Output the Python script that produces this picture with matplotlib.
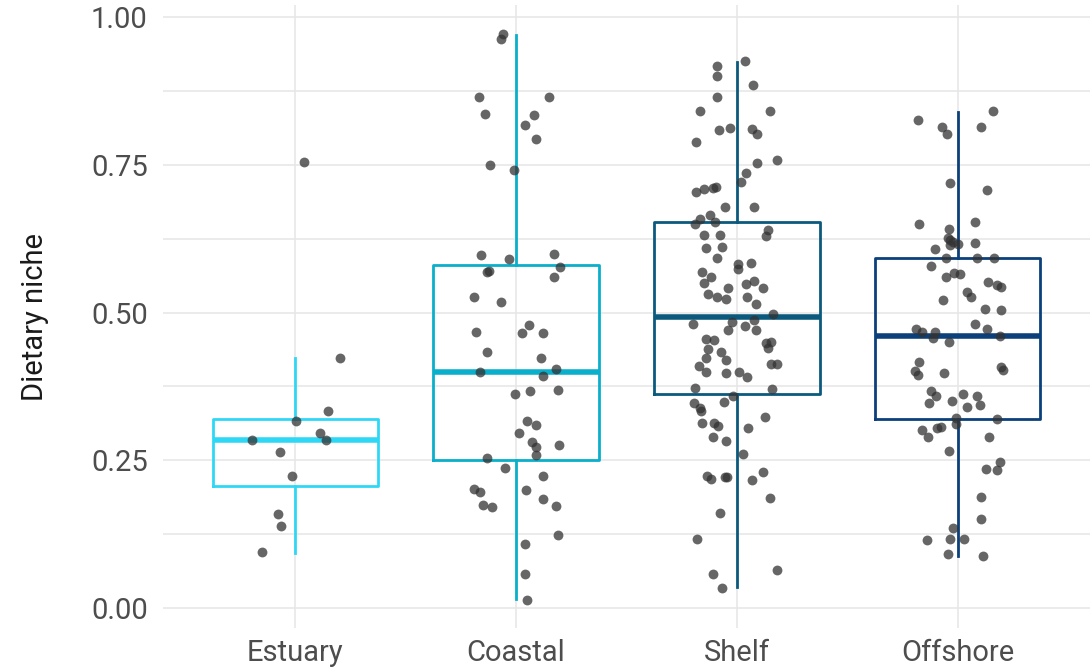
import numpy as np
import matplotlib.pyplot as plt

plt.rcParams['font.family'] = ['Roboto', 'DejaVu Sans']

# groups and box colours
groups = ['Estuary', 'Coastal', 'Shelf', 'Offshore']
box_colors = ['#2ED8F5', '#0AAFCB', '#0B5A7E', '#0B407A']

# box statistics
q1 = [0.207, 0.250, 0.363, 0.320]
med = [0.285, 0.400, 0.493, 0.460]
q3 = [0.320, 0.580, 0.653, 0.592]
whislo = [0.093, 0.015, 0.035, 0.088]
whishi = [0.423, 0.970, 0.925, 0.840]

# jittered observations: (horizontal jitter, dietary niche)
estuary_jit = [0.04, 0.20, 0.15, 0.005, 0.11, 0.14, -0.195, -0.07, -0.015, -0.08, -0.065, -0.15]
estuary_y = [0.755, 0.424, 0.334, 0.316, 0.297, 0.284, 0.284, 0.264, 0.224, 0.159, 0.139, 0.094]

coastal_jit = [-0.06, -0.07, -0.17, 0.15, -0.14, 0.08, 0.04, 0.09, -0.12, -0.01,
               -0.16, -0.03, 0.17, 0.20, -0.13, -0.125, 0.17, -0.19, -0.07, 0.06,
               -0.18, 0.025, 0.12, -0.13, 0.115, 0.18, -0.165, 0.12, -0.005, 0.065,
               0.19, 0.05, 0.09, 0.015, 0.07, 0.09, 0.195, 0.09, -0.13, -0.05,
               0.12, -0.19, -0.165, 0.045, 0.12, -0.15, -0.11, 0.18, 0.19, 0.04,
               0.04, 0.05]
coastal_y = [0.972, 0.963, 0.865, 0.866, 0.836, 0.834, 0.817, 0.794, 0.750, 0.741,
             0.597, 0.591, 0.599, 0.577, 0.569, 0.570, 0.560, 0.526, 0.518, 0.479,
             0.468, 0.466, 0.465, 0.434, 0.424, 0.404, 0.399, 0.393, 0.362, 0.368,
             0.369, 0.316, 0.310, 0.297, 0.281, 0.272, 0.276, 0.259, 0.254, 0.237,
             0.223, 0.201, 0.197, 0.200, 0.185, 0.174, 0.171, 0.173, 0.124, 0.109,
             0.058, 0.014]

shelf_jit = [0.035, -0.09, -0.09, 0.075, -0.09, -0.165, 0.15, -0.08, -0.03, 0.07,
             0.09, -0.185, 0.09, 0.18, 0.04, 0.02, -0.185, -0.15, -0.11, -0.095,
             -0.055, 0.08, -0.12, -0.165, -0.19, -0.10, 0.14, 0.13, -0.15, -0.075,
             -0.14, -0.065, -0.09, 0.005, 0.065, 0.005, -0.16, -0.115, -0.15, -0.04,
             0.04, 0.077, 0.12, -0.13, -0.09, -0.047, 0.048, 0.086, 0.166, -0.02,
             0.08, -0.20, 0.035, -0.04, 0.086, -0.14, -0.105, 0.13, 0.157, 0.14,
             -0.13, -0.074, -0.14, -0.05, -0.17, 0.154, 0.18, -0.14, -0.047, 0.008,
             0.047, -0.19, 0.16, -0.017, -0.195, -0.06, -0.166, -0.164, 0.127, -0.157,
             -0.105, -0.085, 0.05, -0.107, -0.047, 0.03, 0.118, -0.136, -0.118, -0.053,
             -0.044, 0.07, 0.15, -0.077, -0.18, 0.18, -0.109, -0.065]
shelf_y = [0.927, 0.917, 0.901, 0.885, 0.865, 0.842, 0.842, 0.810, 0.812, 0.811,
           0.803, 0.789, 0.753, 0.758, 0.737, 0.721, 0.704, 0.710, 0.711, 0.713,
           0.679, 0.679, 0.665, 0.659, 0.651, 0.654, 0.640, 0.630, 0.632, 0.632,
           0.610, 0.611, 0.592, 0.582, 0.584, 0.574, 0.569, 0.561, 0.551, 0.542,
           0.548, 0.553, 0.542, 0.531, 0.526, 0.523, 0.526, 0.514, 0.498, 0.485,
           0.487, 0.480, 0.477, 0.470, 0.470, 0.455, 0.454, 0.448, 0.450, 0.440,
           0.439, 0.434, 0.424, 0.420, 0.409, 0.413, 0.413, 0.399, 0.398, 0.399,
           0.391, 0.372, 0.371, 0.359, 0.347, 0.348, 0.338, 0.333, 0.324, 0.313,
           0.314, 0.308, 0.305, 0.289, 0.283, 0.261, 0.231, 0.223, 0.218, 0.221,
           0.222, 0.217, 0.186, 0.160, 0.116, 0.064, 0.057, 0.033]

offshore_jit = [0.16, -0.18, -0.07, 0.105, -0.05, -0.036, 0.134, -0.175, 0.08, -0.04,
                -0.045, -0.033, -0.02, 0.003, -0.036, 0.08, -0.10, -0.053, 0.087, 0.167,
                -0.12, -0.054, -0.014, 0.01, 0.14, 0.178, 0.198, 0.045, 0.063, -0.068,
                0.124, 0.196, 0.08, -0.19, -0.163, 0.133, -0.104, -0.11, -0.04, 0.19,
                -0.176, -0.195, -0.181, -0.063, 0.196, 0.204, -0.122, -0.096, 0.024, 0.09,
                -0.128, -0.027, 0.10, 0.044, -0.005, 0.178, -0.006, -0.077, -0.092, -0.16,
                -0.133, 0.143, -0.038, 0.19, 0.13, 0.178, 0.105, 0.105, -0.02, -0.14,
                -0.036, 0.027, -0.045, 0.116]
offshore_y = [0.842, 0.826, 0.815, 0.814, 0.802, 0.720, 0.708, 0.651, 0.653, 0.641,
              0.627, 0.623, 0.620, 0.616, 0.614, 0.618, 0.607, 0.593, 0.592, 0.592,
              0.579, 0.560, 0.567, 0.566, 0.552, 0.547, 0.543, 0.535, 0.527, 0.521,
              0.506, 0.504, 0.481, 0.473, 0.467, 0.472, 0.467, 0.457, 0.451, 0.460,
              0.416, 0.401, 0.394, 0.398, 0.408, 0.403, 0.367, 0.359, 0.362, 0.359,
              0.347, 0.351, 0.343, 0.340, 0.322, 0.320, 0.311, 0.307, 0.305, 0.301,
              0.289, 0.289, 0.266, 0.247, 0.235, 0.234, 0.187, 0.150, 0.136, 0.115,
              0.116, 0.116, 0.092, 0.088]

jitters = [estuary_jit, coastal_jit, shelf_jit, offshore_jit]
values = [estuary_y, coastal_y, shelf_y, offshore_y]

fig = plt.figure(figsize=(10.9, 6.72), dpi=100)
ax = fig.add_axes([0.1495, 0.0655, 0.8505, 0.927])

positions = np.arange(1, len(groups) + 1)
for i, g in enumerate(groups):
    stats = [dict(med=med[i], q1=q1[i], q3=q3[i], whislo=whislo[i], whishi=whishi[i], fliers=[])]
    c = box_colors[i]
    ax.bxp(stats, positions=[positions[i]], widths=0.75, showcaps=False,
           boxprops=dict(color=c, linewidth=2.0),
           whiskerprops=dict(color=c, linewidth=2.0),
           medianprops=dict(color=c, linewidth=4.0, solid_capstyle='butt'),
           zorder=2)
    ax.scatter(positions[i] + np.array(jitters[i]), values[i], s=50,
               color='#333333', alpha=0.75, linewidths=0, zorder=3)

ax.set_xlim(0.4, 4.6)
ax.set_ylim(-0.034, 1.021)
ax.set_xticks(positions)
ax.set_xticklabels(groups)
ax.set_yticks([0, 0.25, 0.5, 0.75, 1.0])
ax.set_yticklabels(['0.00', '0.25', '0.50', '0.75', '1.00'])
ax.set_yticks(np.arange(0.125, 1.0, 0.25), minor=True)

ax.grid(True, which='major', color='#E6E6E6', linewidth=1.1)
ax.grid(True, which='minor', axis='y', color='#E6E6E6', linewidth=1.1)
ax.set_axisbelow(True)
for s in ax.spines.values():
    s.set_visible(False)
ax.tick_params(axis='both', which='both', length=0, labelsize=21, labelcolor='#4D4D4D')
ax.tick_params(axis='x', pad=8)
ax.tick_params(axis='y', pad=11)
ax.set_ylabel('Dietary niche', fontsize=21, color='#1A1A1A', labelpad=30)

fig.savefig('out.png', dpi=100)
